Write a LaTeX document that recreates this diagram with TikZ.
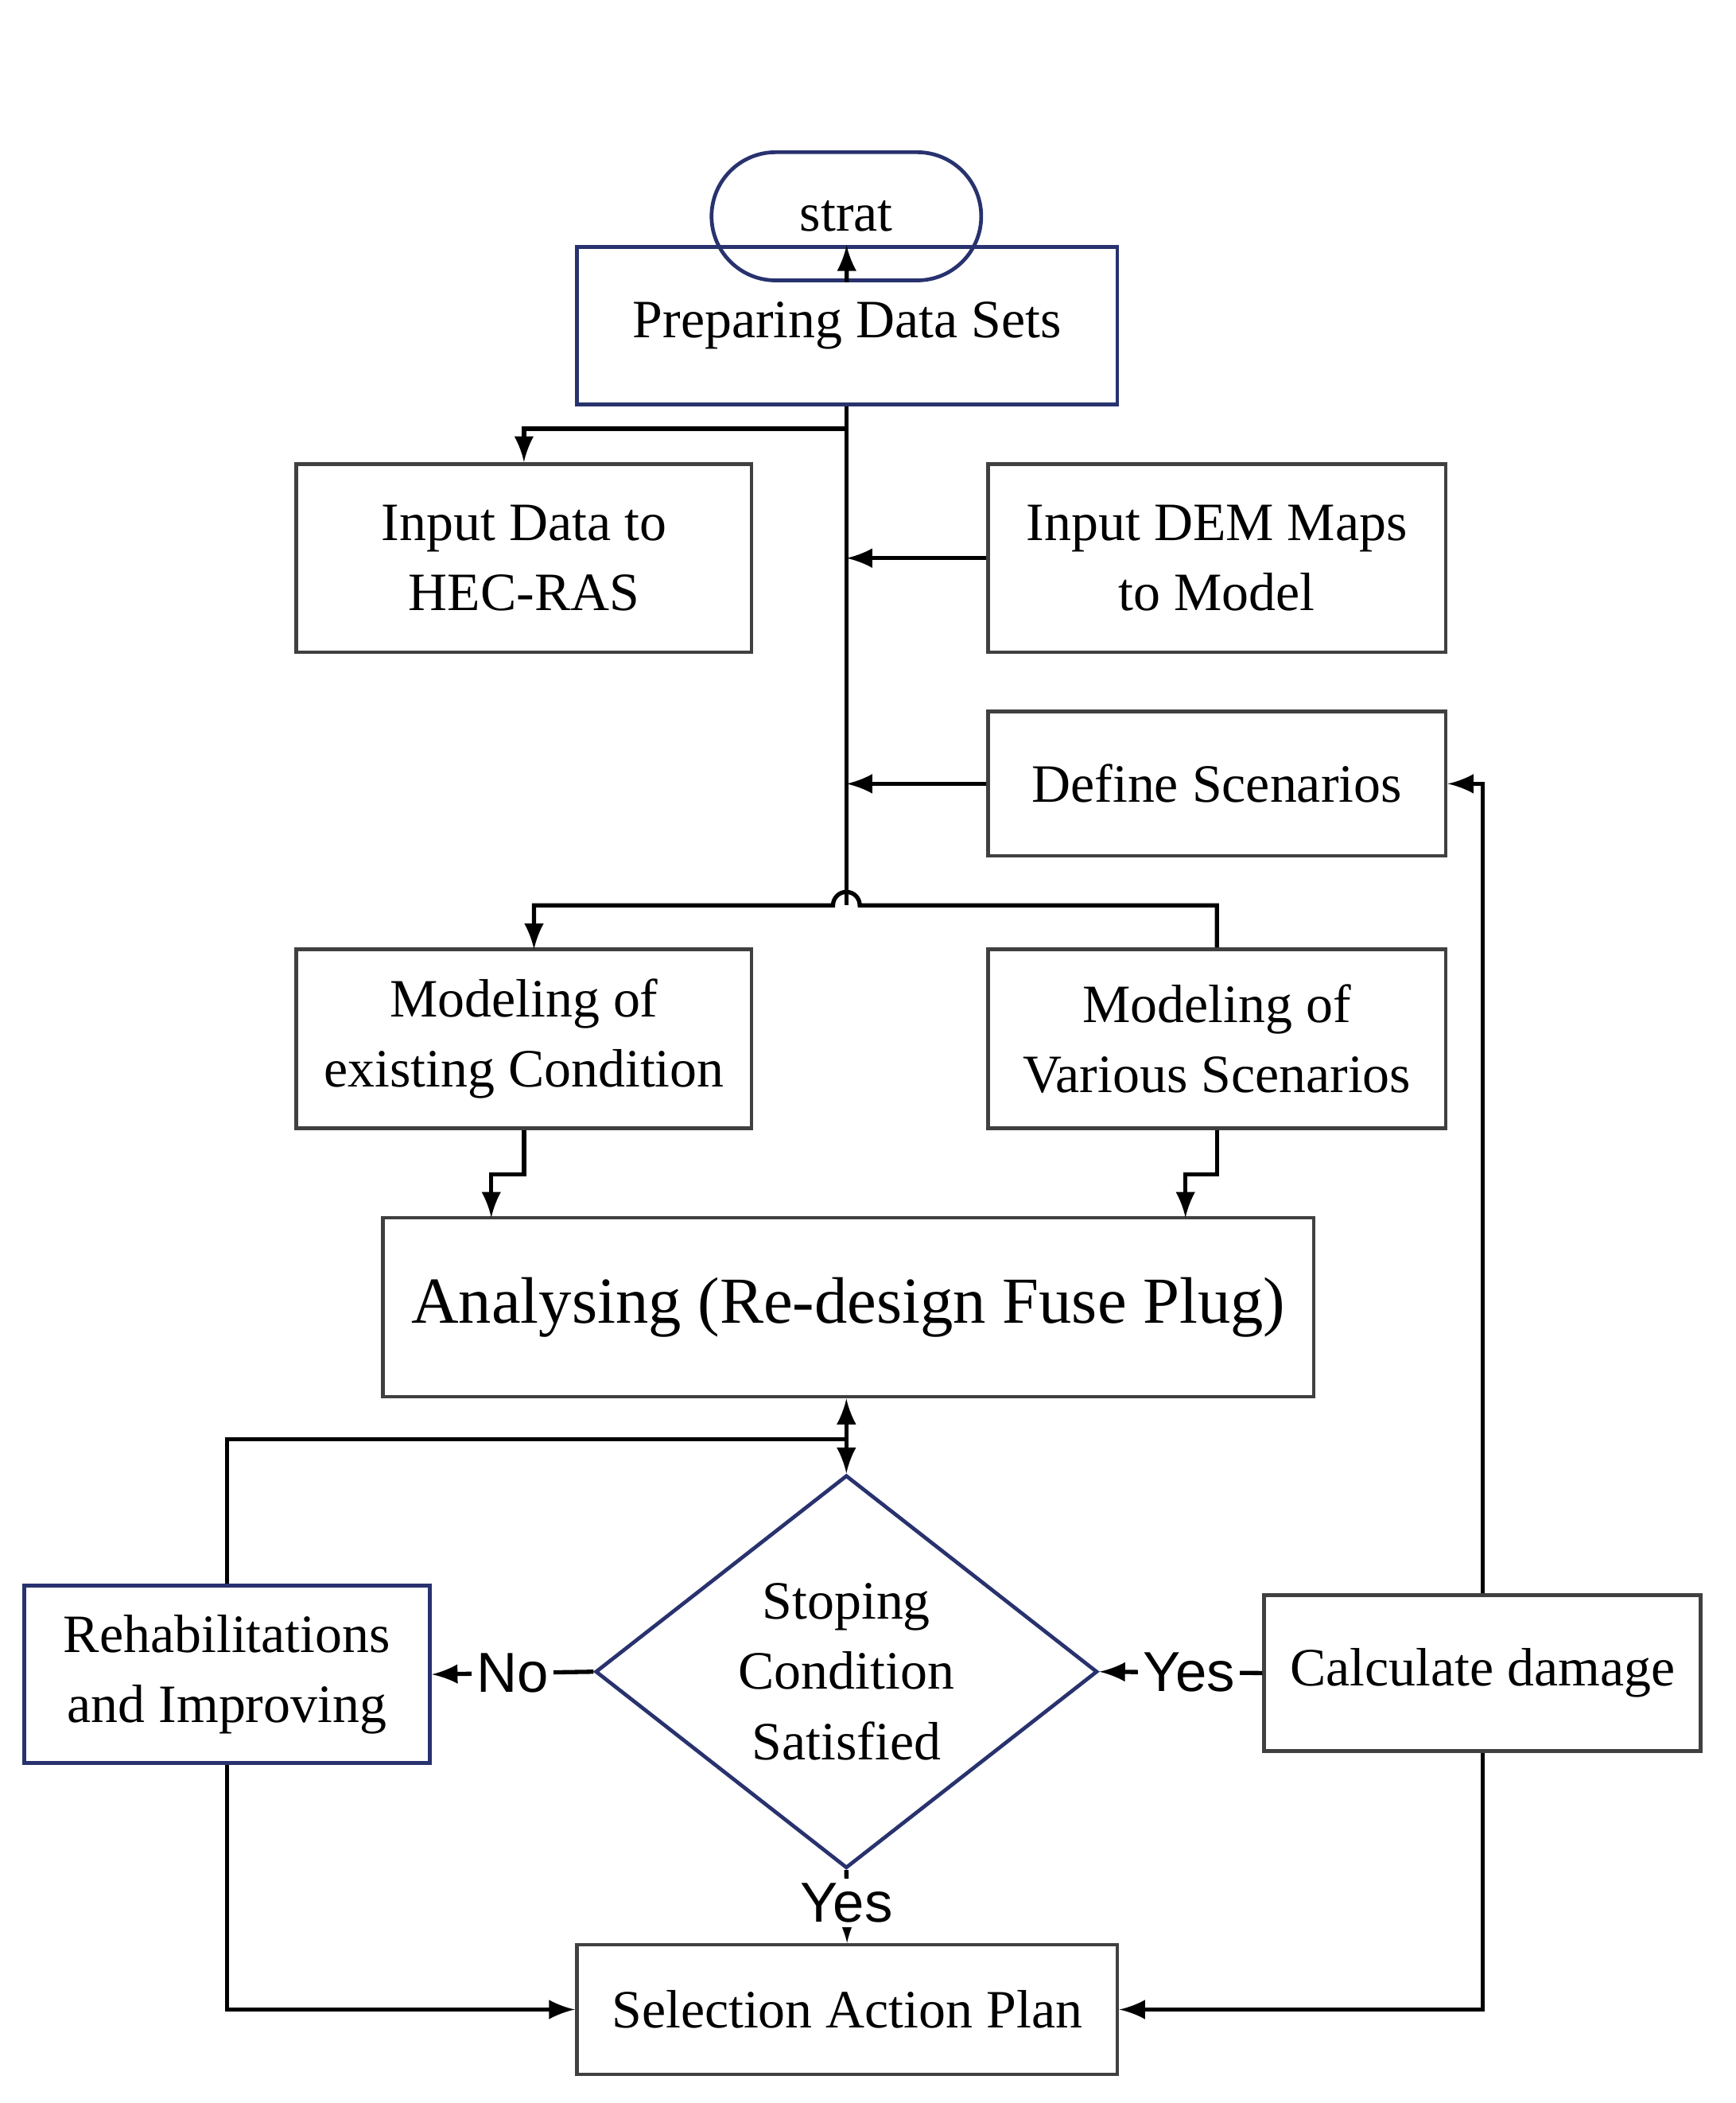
\documentclass[tikz,border=0pt]{standalone}
\usepackage{fontspec}
\setmainfont{Liberation Serif}
\newfontfamily\labfont{Liberation Sans}
\usetikzlibrary{shapes.geometric,arrows}
\definecolor{navy}{RGB}{40,50,110}
\tikzset{
  box/.style={draw=black!75,line width=0.8pt,inner sep=2pt,align=center,font=\fontsize{11.5}{15}\selectfont},
  link/.style={line width=0.9pt,-latex},
  lab/.style={fill=white,inner sep=1pt,font=\labfont\fontsize{12}{14}\selectfont}
}
\begin{document}
\begin{tikzpicture}
      \useasboundingbox (0,0) rectangle (13,15.75);

      \node[box,draw=navy,rounded corners=0.48cm,minimum width=2.02cm,minimum height=0.96cm] (S) at (6.34,14.13) {strat};
      \node[box,draw=navy,minimum width=4.05cm,minimum height=1.18cm] (P) at (6.345,13.31) {Preparing Data Sets};
      \node[box,minimum width=3.41cm,minimum height=1.41cm] (H) at (3.925,11.57) {Input Data to\\HEC-RAS};
      \node[box,minimum width=3.43cm,minimum height=1.41cm] (D) at (9.115,11.57) {Input DEM Maps\\to Model};
      \node[box,minimum width=3.43cm,minimum height=1.08cm] (DS) at (9.115,9.88) {Define Scenarios};
      \node[box,minimum width=3.41cm,minimum height=1.34cm] (E) at (3.925,7.97) {Modeling of\\existing Condition};
      \node[box,minimum width=3.43cm,minimum height=1.34cm] (V) at (9.115,7.97) {Modeling of\\Various Scenarios};
      \node[box,minimum width=6.97cm,minimum height=1.34cm,font=\fontsize{14}{17}\selectfont] (A) at (6.355,5.96) {Analysing (Re-design Fuse Plug)};
      \node[box,draw=navy,shape=diamond,minimum width=3.76cm,minimum height=2.70cm,inner sep=0pt] (C) at (6.34,3.23) {Stoping\\Condition\\Satisfied};
      \node[box,draw=navy,minimum width=3.04cm,minimum height=1.33cm] (R) at (1.70,3.21) {Rehabilitations\\and Improving};
      \node[box,minimum width=3.27cm,minimum height=1.17cm] (K) at (11.105,3.22) {Calculate damage};
      \node[box,minimum width=4.05cm,minimum height=0.97cm] (L) at (6.345,0.70) {Selection Action Plan};

      \coordinate (T1) at (6.34,12.54);
      \coordinate (T2) at (6.34,11.57);
      \coordinate (T3) at (6.34,9.88);
      \coordinate (T4) at (6.34,8.97);
      \coordinate (J) at (6.44,8.97);
      \coordinate (B1) at (6.34,4.97);

      \draw[link] (S) -- (P);
      \draw[line width=0.9pt] (P.south -| T1) -- (T4);
      \draw[link] (T1) -| (H);
      \draw[link] (D) -- (T2);
      \draw[link] (DS) -- (T3);
      \draw[link] (V.north) |- (J) arc[start angle=0,end angle=180,radius=0.1] -| (4.0,8.64);

      \draw[link] (E.south) -- ++(0,-0.33) -| (3.68,6.63);
      \draw[link] (V.south) -- ++(0,-0.33) -| (8.88,6.63);

      \draw[latex-latex,line width=0.9pt] (A.south -| C) -- (C.north);
      \draw[line width=0.9pt] (R.north) |- (B1);

      \draw[link] (C.west) -- node[lab,pos=0.5] {No} (R.east);
      \draw[link] (K.west) -- node[lab,pos=0.45] {Yes} (C.east);
      \draw[link] (C.south) -- node[lab,pos=0.45] {Yes} (L.north);
      \draw[link] (K.north) |- (DS.east);
      \draw[link] (R.south) |- (L.west);
      \draw[link] (K.south) |- (L.east);
  \end{tikzpicture}
\end{document}
